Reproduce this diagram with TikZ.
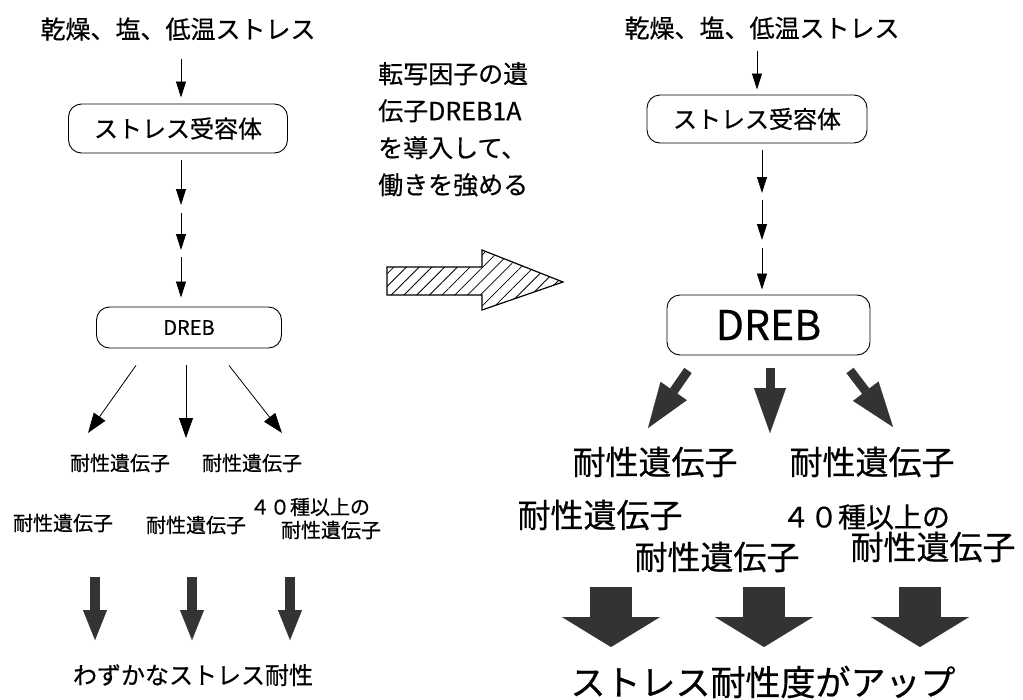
\documentclass[tikz,border=0pt]{standalone}
\usepackage{fontspec}
\setmainfont{Noto Sans CJK JP}[FakeBold=0.5]
\usetikzlibrary{arrows.meta,patterns.meta,calc}
\begin{document}
\begin{tikzpicture}[x=1pt,y=-1pt,
  t20/.style={inner sep=0pt,font=\fontsize{20}{24}\selectfont},
  t24/.style={inner sep=0pt,font=\fontsize{24}{28}\selectfont},
  t25/.style={inner sep=0pt,font=\fontsize{25}{30}\selectfont},
  t28/.style={inner sep=0pt,font=\fontsize{28}{32}\selectfont},
  t33/.style={inner sep=0pt,font=\fontsize{33}{38}\selectfont},
  t35/.style={inner sep=0pt,font=\fontsize{35}{40}\selectfont},
  t40/.style={inner sep=0pt,font=\fontsize{41}{46}\selectfont},
  rbox/.style={draw,line width=0.9pt,rounded corners=13pt},
  thinarr/.style={draw,line width=0.8pt,-{Triangle[length=16pt,width=10pt]}},
  diagarr/.style={draw,line width=0.8pt,-{Triangle[length=20pt,width=14pt]}},
  lthick/.style={draw=black!80,line width=10pt,-{Triangle[length=30pt,width=24pt,line width=0.1pt]}},
  rdiag/.style={draw=black!80,line width=9pt,-{Triangle[length=45pt,width=32pt,line width=0.1pt]}},
  rblock/.style={draw=black!80,line width=42pt,-{Triangle[length=30pt,width=98pt,line width=0.1pt]}},
]
\useasboundingbox (0,0) rectangle (1023,699);
\fill[white] (0,0) rectangle (1023,699);

% ---------------- left ----------------
\node[t25] (lt) at (178,29) {乾燥、塩、低温ストレス};
\node[rbox,t24,minimum width=219pt,minimum height=49pt] (lb) at (178,128.5) {ストレス受容体};
\coordinate (lm1) at (181,209);
\coordinate (lm2) at (181,254);
\node[rbox,t20,minimum width=185pt,minimum height=41pt] (ld) at (189,327.5) {DREB};

\draw[thinarr,shorten <=18pt,shorten >=6pt] (lt.south -| lm1) -- (lb.north -| lm1);
\draw[thinarr,shorten <=7pt,shorten >=4pt] (lb.south -| lm1) -- (lm1);
\draw[thinarr,shorten <=4pt,shorten >=4pt] (lm1) -- (lm2);
\draw[thinarr,shorten <=3pt,shorten >=9pt] (lm2) -- (ld.north -| lm2);

\coordinate (le1) at (88,433);
\coordinate (le2) at (186,438);
\coordinate (le3) at (282,433);
\draw[diagarr] ($(ld.south)+(-53,17)$) -- (le1);
\draw[diagarr] ($(ld.south)+(-3,17)$) -- (le2);
\draw[diagarr] ($(ld.south)+(40,17)$) -- (le3);

\node[t20] (lg1) at (120,463) {耐性遺伝子};
\node[t20] (lg2) at (252,463) {耐性遺伝子};
\node[t20] (lg3) at (63,523) {耐性遺伝子};
\node[t20] (lg4) at (196,525) {耐性遺伝子};
\node[t20] (lg5a) at (310,507) {４０種以上の};
\node[t20] (lg5b) at (331,530) {耐性遺伝子};

\coordinate (lk1s) at (95,577);  \coordinate (lk1e) at (95,640);
\coordinate (lk2s) at (192,577); \coordinate (lk2e) at (192,640);
\coordinate (lk3s) at (290,577); \coordinate (lk3e) at (290,640);
\draw[lthick] (lk1s) -- (lk1e);
\draw[lthick] (lk2s) -- (lk2e);
\draw[lthick] (lk3s) -- (lk3e);

\node[t24] (lw) at (193,675) {わずかなストレス耐性};

% ---------------- middle ----------------
\node[inner sep=0pt,font=\fontsize{25}{37}\selectfont,align=left,anchor=north west] (mt) at (378,62)
  {転写因子の遺\\伝子DREB1A\\を導入して、\\働きを強める};
\draw[line width=1.2pt,pattern={Lines[angle=45,distance=9pt,line width=0.8pt]}]
  (387,267) -- (482,267) -- (482,250) -- (563,282) -- (482,310) -- (482,295) -- (387,295) -- cycle;

% ---------------- right ----------------
\node[t25] (rt) at (762,28) {乾燥、塩、低温ストレス};
\node[rbox,t24,minimum width=220pt,minimum height=48pt] (rb) at (757,119) {ストレス受容体};
\coordinate (rm1) at (762,196);
\coordinate (rm2) at (762,244);
\node[rbox,t40,minimum width=203pt,minimum height=60pt] (rd) at (768.5,325) {DREB};

\draw[thinarr,shorten <=11pt,shorten >=5pt] (rt.south -| rb) -- (rb.north);
\draw[thinarr,shorten <=7pt,shorten >=3pt] (rb.south -| rm1) -- (rm1);
\draw[thinarr,shorten <=4pt,shorten >=4pt] (rm1) -- (rm2);
\draw[thinarr,shorten <=4pt,shorten >=5pt] (rm2) -- (rd.north -| rm2);

\coordinate (re1) at (648,428);
\coordinate (re2) at (770,433);
\coordinate (re3) at (893,427);
\draw[rdiag] ($(rd.south)+(-80.5,15)$) -- (re1);
\draw[rdiag] ($(rd.south)+(1.5,13)$) -- (re2);
\draw[rdiag] ($(rd.south)+(81.5,15)$) -- (re3);

\node[t33] (rg1) at (655,462) {耐性遺伝子};
\node[t33] (rg2) at (872,462) {耐性遺伝子};
\node[t33] (rg3) at (600,515) {耐性遺伝子};
\node[t33] (rg4) at (717,557) {耐性遺伝子};
\node[t28] (rg5a) at (866,517) {４０種以上の};
\node[t33] (rg5b) at (933,547) {耐性遺伝子};

\coordinate (rk1s) at (611,587); \coordinate (rk1e) at (611,647);
\coordinate (rk2s) at (764,587); \coordinate (rk2e) at (764,647);
\coordinate (rk3s) at (920,587); \coordinate (rk3e) at (920,647);
\draw[rblock] (rk1s) -- (rk1e);
\draw[rblock] (rk2s) -- (rk2e);
\draw[rblock] (rk3s) -- (rk3e);

\node[t35] (rw) at (763,682) {ストレス耐性度がアップ};
\end{tikzpicture}
\end{document}
